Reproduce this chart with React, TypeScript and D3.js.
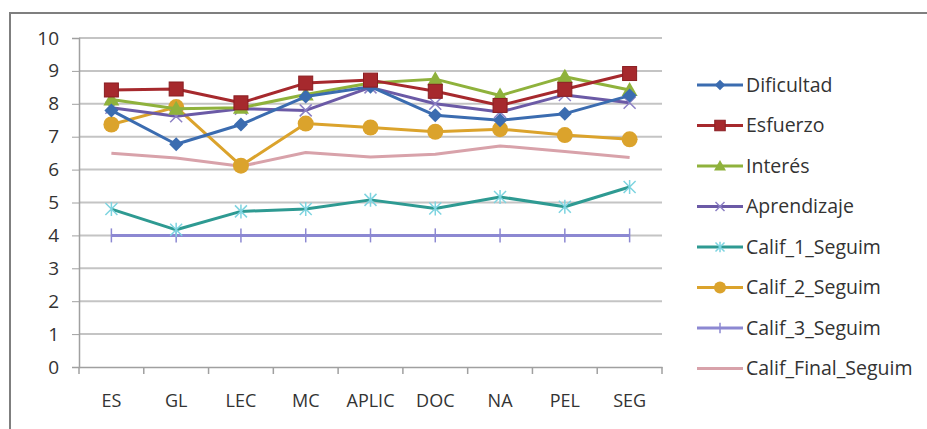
import React, { useRef, useEffect } from 'react';
import * as d3 from 'd3';

const categories = ['ES', 'GL', 'LEC', 'MC', 'APLIC', 'DOC', 'NA', 'PEL', 'SEG'];
const yTicks = [0, 1, 2, 3, 4, 5, 6, 7, 8, 9, 10];

const dificultad = [7.8, 6.77, 7.37, 8.22, 8.52, 7.65, 7.5, 7.7, 8.25];
const esfuerzo = [8.42, 8.45, 8.03, 8.63, 8.72, 8.38, 7.95, 8.44, 8.92];
const interes = [8.13, 7.85, 7.88, 8.28, 8.63, 8.75, 8.25, 8.82, 8.42];
const aprendizaje = [7.88, 7.62, 7.85, 7.8, 8.5, 8.0, 7.75, 8.27, 8.03];
const calif1 = [4.8, 4.17, 4.73, 4.8, 5.08, 4.82, 5.17, 4.87, 5.47];
const calif2 = [7.37, 7.9, 6.12, 7.4, 7.28, 7.15, 7.23, 7.05, 6.92];
const calif3 = [4, 4, 4, 4, 4, 4, 4, 4, 4];
const califFinal = [6.5, 6.35, 6.1, 6.52, 6.38, 6.47, 6.72, 6.55, 6.37];

const seriesNames = [
  'Dificultad', 'Esfuerzo', 'Interés', 'Aprendizaje',
  'Calif_1_Seguim', 'Calif_2_Seguim', 'Calif_3_Seguim', 'Calif_Final_Seguim',
];

type Marker = 'diamond' | 'square' | 'triangle' | 'x' | 'star' | 'circle' | 'bar' | 'none';

const styles: { color: string; marker: Marker; markerColor: string }[] = [
  { color: '#3b6cb0', marker: 'diamond', markerColor: '#3b6cb0' },
  { color: '#a6292d', marker: 'square', markerColor: '#a6292d' },
  { color: '#8fb23c', marker: 'triangle', markerColor: '#8fb23c' },
  { color: '#6b5aa6', marker: 'x', markerColor: '#8c80c4' },
  { color: '#2e9a92', marker: 'star', markerColor: '#7ed4e0' },
  { color: '#dba32c', marker: 'circle', markerColor: '#dba32c' },
  { color: '#8c88d2', marker: 'bar', markerColor: '#8c88d2' },
  { color: '#d8a2aa', marker: 'none', markerColor: '#d8a2aa' },
];

const FONT = 'Open Sans, sans-serif';

function drawMarker(g: d3.Selection<SVGGElement, unknown, null, undefined>, type: Marker, x: number, y: number, color: string, scale = 1) {
  const s = scale;
  if (type === 'diamond') {
    g.append('path').attr('d', `M${x},${y - 7 * s}L${x + 7 * s},${y}L${x},${y + 7 * s}L${x - 7 * s},${y}Z`).attr('fill', color);
  } else if (type === 'square') {
    g.append('rect').attr('x', x - 7 * s).attr('y', y - 7 * s).attr('width', 14 * s).attr('height', 14 * s)
      .attr('fill', color).attr('stroke', '#8a1e22').attr('stroke-width', 1);
  } else if (type === 'triangle') {
    g.append('path').attr('d', `M${x},${y - 8 * s}L${x + 8 * s},${y + 6 * s}L${x - 8 * s},${y + 6 * s}Z`).attr('fill', color);
  } else if (type === 'x') {
    g.append('path').attr('d', `M${x - 6 * s},${y - 6 * s}L${x + 6 * s},${y + 6 * s}M${x + 6 * s},${y - 6 * s}L${x - 6 * s},${y + 6 * s}`)
      .attr('stroke', color).attr('stroke-width', 1.5);
  } else if (type === 'star') {
    g.append('path').attr('d', `M${x - 6 * s},${y - 6 * s}L${x + 6 * s},${y + 6 * s}M${x + 6 * s},${y - 6 * s}L${x - 6 * s},${y + 6 * s}M${x},${y - 7 * s}L${x},${y + 7 * s}`)
      .attr('stroke', color).attr('stroke-width', 1.5);
  } else if (type === 'circle') {
    g.append('circle').attr('cx', x).attr('cy', y).attr('r', 8 * s).attr('fill', color);
  } else if (type === 'bar') {
    g.append('path').attr('d', `M${x},${y - 7 * s}L${x},${y + 7 * s}`).attr('stroke', color).attr('stroke-width', 1.5);
  }
}

const App: React.FC = () => {
  const ref = useRef<SVGSVGElement>(null);

  useEffect(() => {
    if (!ref.current) return;
    const svg = d3.select(ref.current);
    svg.selectAll('*').remove();

    const left = 79, right = 662, top = 38, bottom = 367;
    const x = d3.scaleBand().domain(categories).range([left, right]);
    const y = d3.scaleLinear().domain([0, 10]).range([bottom, top]);

    // Frame
    svg.append('rect').attr('x', 10).attr('y', 13).attr('width', 1000).attr('height', 1000)
      .attr('fill', '#fff').attr('stroke', '#7f7f7f').attr('stroke-width', 2);

    // Gridlines
    svg.append('g').selectAll('line').data(yTicks.filter(t => t > 0)).enter().append('line')
      .attr('x1', left).attr('x2', right).attr('y1', d => y(d)).attr('y2', d => y(d))
      .attr('stroke', '#c4c4c4').attr('stroke-width', 2);

    // Y axis
    const yAxis = svg.append('g').attr('transform', `translate(${left},0)`)
      .call(d3.axisLeft(y).tickValues(yTicks).tickSize(7).tickPadding(13).tickFormat(d3.format('d')));
    yAxis.select('.domain').attr('stroke', '#a0a0a0').attr('stroke-width', 1.5);
    yAxis.selectAll('.tick line').attr('stroke', '#a0a0a0');
    yAxis.selectAll('text').attr('font-family', FONT).attr('font-size', 19).attr('fill', '#333');

    // X axis
    const xAxis = svg.append('g').attr('transform', `translate(0,${bottom})`)
      .call(d3.axisBottom(x).tickSize(0).tickPadding(27));
    xAxis.select('.domain').attr('stroke', '#a0a0a0').attr('stroke-width', 1.5);
    xAxis.selectAll('text').attr('font-family', FONT).attr('font-size', 18).attr('fill', '#333');
    const edges = categories.map(c => x(c)!).concat([right]);
    svg.append('g').selectAll('line').data(edges).enter().append('line')
      .attr('x1', d => d).attr('x2', d => d).attr('y1', bottom).attr('y2', bottom + 7)
      .attr('stroke', '#a0a0a0').attr('stroke-width', 1.5);

    const allSeries = [dificultad, esfuerzo, interes, aprendizaje, calif1, calif2, calif3, califFinal];
    const cx = (i: number) => x(categories[i])! + x.bandwidth() / 2;
    const line = d3.line<number>().x((_, i) => cx(i)).y(d => y(d));

    const order = [7, 6, 4, 5, 3, 2, 0, 1];
    order.forEach(si => {
      const st = styles[si];
      const g = svg.append('g');
      g.append('path').datum(allSeries[si]).attr('d', line).attr('fill', 'none')
        .attr('stroke', st.color).attr('stroke-width', 3).attr('stroke-linejoin', 'round');
      allSeries[si].forEach((v, i) => drawMarker(g as any, st.marker, cx(i), y(v), st.markerColor));
    });

    // Legend
    const legend = svg.append('g');
    seriesNames.forEach((name, i) => {
      const st = styles[i];
      const ly = 85 + i * 40.5;
      legend.append('line').attr('x1', 697).attr('x2', 743).attr('y1', ly).attr('y2', ly)
        .attr('stroke', st.color).attr('stroke-width', 3);
      drawMarker(legend as any, st.marker, 720, ly, st.markerColor, 0.75);
      legend.append('text').attr('x', 746).attr('y', ly).attr('dy', '0.35em')
        .attr('font-family', FONT).attr('font-size', 19.5).attr('fill', '#333').text(name);
    });
  }, []);

  return (
    <svg ref={ref} width={927} height={429} style={{ position: 'absolute', left: 0, top: 0, background: '#fff' }} />
  );
};

export default App;
